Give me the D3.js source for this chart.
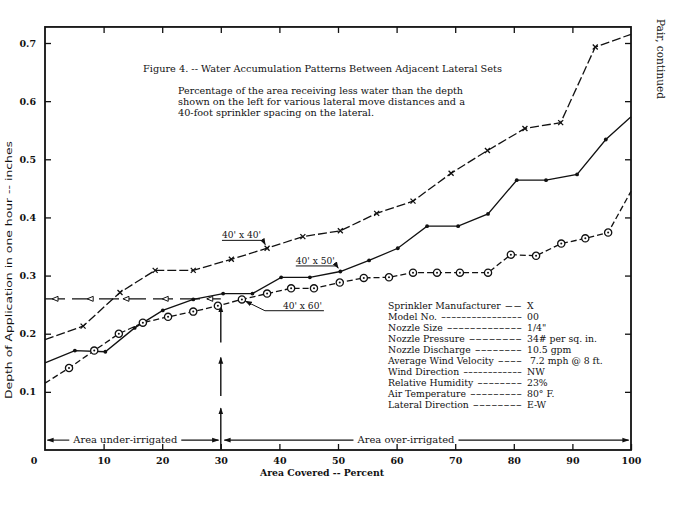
<!DOCTYPE html>
<html>
<head>
<meta charset="utf-8">
<script src="https://cdn.jsdelivr.net/npm/d3@7"></script>
<style>
    body { margin: 0; background: #fff; }
    text { font-family: 'DejaVu Serif', serif; fill: #111; }
</style>
</head>
<body>
<svg id="chart" width="682" height="507"></svg>
<script>
// axis ticks
let xTicks = [10, 20, 30, 40, 50, 60, 70, 80, 90, 100]
let yTicks = [0.1, 0.2, 0.3, 0.4, 0.5, 0.6, 0.7]

// 40' x 40'  (dashed, x markers)
let x4040 = [0, 6.5, 12.8, 18.8, 25.3, 31.8, 37.9, 44, 50.4, 56.6, 62.8, 69.3, 75.5, 81.9, 88, 93.9, 100]
let y4040 = [0.19, 0.213, 0.271, 0.309, 0.309, 0.328, 0.347, 0.367, 0.377, 0.407, 0.428, 0.476, 0.515, 0.553, 0.563, 0.693, 0.715]

// 40' x 50'  (solid, dots)
let x4050 = [0, 5.1, 10.3, 15.3, 20.1, 25.3, 30.4, 35.4, 40.3, 45.2, 50.4, 55.3, 60.2, 65.2, 70.5, 75.6, 80.5, 85.5, 90.8, 95.7, 100]
let y4050 = [0.15, 0.171, 0.169, 0.21, 0.24, 0.259, 0.269, 0.269, 0.297, 0.297, 0.307, 0.326, 0.347, 0.385, 0.385, 0.406, 0.464, 0.464, 0.474, 0.534, 0.573]

// 40' x 60'  (short dashes, circled dots)
let x4060 = [0, 4.1, 8.4, 12.6, 16.7, 21, 25.3, 29.5, 33.6, 37.9, 42, 45.9, 50.3, 54.4, 58.7, 62.8, 66.9, 70.8, 75.6, 79.5, 83.8, 88.1, 92.2, 96.1, 100]
let y4060 = [0.115, 0.141, 0.171, 0.2, 0.219, 0.229, 0.238, 0.248, 0.259, 0.269, 0.278, 0.278, 0.288, 0.296, 0.297, 0.305, 0.305, 0.305, 0.305, 0.336, 0.334, 0.355, 0.364, 0.374, 0.445]

// reading guides
let guideDepth = 0.26
let guideArea = 30
let guideArrowsX = [1.2, 7.2, 13.3, 20, 27.6]
let guideUpSegments = [[0, 0.072], [0.093, 0.159], [0.185, 0.248]]

let titleText = 'Figure 4. -- Water Accumulation Patterns Between Adjacent Lateral Sets'
let subtitleLines = [
    'Percentage of the area receiving less water than the depth',
    'shown on the left for various lateral move distances  and a',
    '40-foot sprinkler spacing on the lateral.'
]
let infoLabels = ['Sprinkler Manufacturer', 'Model No.', 'Nozzle Size', 'Nozzle Pressure', 'Nozzle Discharge',
    'Average Wind Velocity', 'Wind Direction', 'Relative Humidity', 'Air Temperature', 'Lateral Direction']
let infoDashes = ['--', '----------------', '-------------', '--------', '--------',
    '----', '------------', '--------', '---------', '--------']
let infoValues = ['X', '00', '1/4"', '34# per sq. in.', '10.5 gpm',
    ' 7.2 mph @ 8 ft.', 'NW', '23%', '80\u00B0 F.', 'E-W']

function main() {
    let svg = d3.select('#chart')
    let yMax = 0.7276

    let x = d3.scaleLinear().domain([0, 100]).range([45, 631]),
        y = d3.scaleLinear().domain([0, 0.7]).range([450, 43])

    let defs = svg.append('defs')
    defs.append('marker').attr('id', 'head')
        .attr('viewBox', '0 0 10 10').attr('refX', 9).attr('refY', 5)
        .attr('markerWidth', 7).attr('markerHeight', 7).attr('orient', 'auto')
        .attr('markerUnits', 'userSpaceOnUse')
        .append('path').attr('d', 'M0,1.5L10,5L0,8.5Z').attr('fill', '#111')

    // frame
    svg.append('rect')
        .attr('x', x(0)).attr('y', y(yMax))
        .attr('width', x(100) - x(0)).attr('height', y(0) - y(yMax))
        .attr('fill', 'none').attr('stroke', '#111').attr('stroke-width', 1.8)

    // axes, ticks pointing inward
    const styleAxis = g => {
        g.select('.domain').remove()
        g.selectAll('line').attr('stroke', '#111').attr('stroke-width', 1.3)
        g.selectAll('text').attr('font-family', "'DejaVu Serif', serif")
            .attr('font-size', 9.5).attr('font-weight', 'bold').attr('fill', '#111')
    }
    svg.append('g').attr('transform', 'translate(0,' + y(0) + ')')
        .call(d3.axisBottom(x).tickValues(xTicks).tickSizeInner(-6).tickSizeOuter(0).tickPadding(7))
        .call(styleAxis)
    svg.append('g').attr('transform', 'translate(' + x(0) + ',0)')
        .call(d3.axisLeft(y).tickValues(yTicks).tickSizeInner(-6).tickSizeOuter(0).tickPadding(9)
            .tickFormat(d3.format('.1f')))
        .call(styleAxis)
    svg.append('g').attr('transform', 'translate(0,' + y(yMax) + ')')
        .call(d3.axisTop(x).tickValues(xTicks.slice(0, -1)).tickSizeInner(-6).tickSizeOuter(0).tickFormat(''))
        .call(styleAxis)
    svg.append('g').attr('transform', 'translate(' + x(100) + ',0)')
        .call(d3.axisRight(y).tickValues(yTicks).tickSizeInner(-6).tickSizeOuter(0).tickFormat(''))
        .call(styleAxis)
    svg.append('text').attr('x', x(0) - 11).attr('y', y(0) + 14)
        .attr('text-anchor', 'middle').attr('font-size', 9.5).attr('font-weight', 'bold').text('0')

    // axis titles
    svg.append('text').attr('x', 260).attr('y', 476)
        .attr('font-size', 9).attr('font-weight', 'bold')
        .attr('textLength', 124).attr('lengthAdjust', 'spacingAndGlyphs')
        .text('Area Covered -- Percent')
    svg.append('text')
        .attr('transform', 'translate(12,270) rotate(-90)')
        .attr('text-anchor', 'middle').attr('font-size', 9.5)
        .style('font-family', "'DejaVu Sans', sans-serif")
        .attr('textLength', 258).attr('lengthAdjust', 'spacingAndGlyphs')
        .text('Depth of Application in one hour -- inches')
    svg.append('text')
        .attr('transform', 'translate(657,19) rotate(90)')
        .attr('font-size', 11)
        .attr('textLength', 80).attr('lengthAdjust', 'spacingAndGlyphs')
        .text('Pair, continued')

    // title block
    svg.append('text').attr('x', 143).attr('y', 72).attr('font-size', 9)
        .attr('textLength', 359).attr('lengthAdjust', 'spacingAndGlyphs').text(titleText)
    let subLen = [285, 287, 196]
    subtitleLines.forEach((t, i) => {
        svg.append('text').attr('x', 178).attr('y', 94 + i * 11).attr('font-size', 9)
            .attr('textLength', subLen[i]).attr('lengthAdjust', 'spacingAndGlyphs').text(t)
    })

    // guide lines
    let guide = svg.append('g').attr('stroke', '#111').attr('fill', 'none').attr('stroke-width', 1.4)
    guide.append('line')
        .attr('x1', x(0)).attr('x2', x(guideArea))
        .attr('y1', y(guideDepth)).attr('y2', y(guideDepth))
        .attr('stroke-dasharray', '20,7')
    guide.selectAll('.open-arrow')
        .data(guideArrowsX)
        .enter().append('path')
        .attr('class', 'open-arrow')
        .attr('d', d => {
            let px = x(d), py = y(guideDepth)
            return 'M' + px + ',' + py + 'L' + (px + 6) + ',' + (py - 2.5) + 'L' + (px + 6) + ',' + (py + 2.5) + 'Z'
        })
        .attr('fill', '#fff').attr('stroke-width', 1)
    guide.selectAll('.up')
        .data(guideUpSegments)
        .enter().append('line')
        .attr('class', 'up')
        .attr('x1', x(guideArea)).attr('x2', x(guideArea))
        .attr('y1', d => y(d[0])).attr('y2', d => y(d[1]))
        .attr('marker-end', 'url(#head)')

    // series
    let line = d3.line().x(d => x(d[0])).y(d => y(d[1]))
    let s4040 = d3.zip(x4040, y4040),
        s4050 = d3.zip(x4050, y4050),
        s4060 = d3.zip(x4060, y4060)

    svg.append('path').datum(s4040).attr('d', line)
        .attr('fill', 'none').attr('stroke', '#111').attr('stroke-width', 1.3).attr('stroke-dasharray', '9,3')
    svg.append('path').datum(s4050).attr('d', line)
        .attr('fill', 'none').attr('stroke', '#111').attr('stroke-width', 1.3)
    svg.append('path').datum(s4060).attr('d', line)
        .attr('fill', 'none').attr('stroke', '#111').attr('stroke-width', 1.3).attr('stroke-dasharray', '6,3')

    svg.selectAll('.xmark')
        .data(s4040.slice(1, -1))
        .enter().append('path')
        .attr('class', 'xmark')
        .attr('transform', d => 'translate(' + x(d[0]) + ',' + y(d[1]) + ')')
        .attr('d', 'M-2.5,-2.5L2.5,2.5M-2.5,2.5L2.5,-2.5')
        .attr('stroke', '#111').attr('stroke-width', 1.3)
    svg.selectAll('.dot')
        .data(s4050.slice(1, -1))
        .enter().append('circle')
        .attr('class', 'dot')
        .attr('cx', d => x(d[0])).attr('cy', d => y(d[1])).attr('r', 1.9)
        .attr('fill', '#111')
    let ring = svg.selectAll('.ring')
        .data(s4060.slice(1, -1))
        .enter().append('g')
        .attr('class', 'ring')
        .attr('transform', d => 'translate(' + x(d[0]) + ',' + y(d[1]) + ')')
    ring.append('circle').attr('r', 3.6).attr('fill', '#fff').attr('stroke', '#111').attr('stroke-width', 1.3)
    ring.append('circle').attr('r', 1).attr('fill', '#111')

    // series labels with leaders
    let labels = [
        {text: "40' x 40'", lx: 30.2, ly: 0.364, side: 'end', point: s4040[6]},
        {text: "40' x 50'", lx: 42.8, ly: 0.32, side: 'end', point: s4050[10]},
        {text: "40' x 60'", lx: 40.6, ly: 0.243, side: 'start', point: s4060[8]}
    ]
    labels.forEach(l => {
        let tx = x(l.lx), ty = y(l.ly)
        svg.append('text').attr('x', tx).attr('y', ty).attr('font-size', 9)
            .attr('textLength', 39).attr('lengthAdjust', 'spacingAndGlyphs').text(l.text)
        let w = 39
        let px = x(l.point[0]), py = y(l.point[1])
        let ux0 = l.side === 'end' ? tx : tx - 18, ux1 = tx + w + 2
        let sx = l.side === 'end' ? ux1 : ux0
        let dx = px - sx, dy = py - (ty + 2), dist = Math.hypot(dx, dy)
        let k = Math.max(0, (dist - 4) / dist)
        svg.append('path')
            .attr('d', l.side === 'end'
                ? 'M' + ux0 + ',' + (ty + 2) + 'L' + ux1 + ',' + (ty + 2) + 'L' + (sx + dx * k) + ',' + (ty + 2 + dy * k)
                : 'M' + ux1 + ',' + (ty + 2) + 'L' + ux0 + ',' + (ty + 2) + 'L' + (sx + dx * k) + ',' + (ty + 2 + dy * k))
            .attr('fill', 'none').attr('stroke', '#111').attr('stroke-width', 1)
            .attr('marker-end', 'url(#head)')
    })

    // under / over irrigated arrows
    let bandY = y(0.017)
    let bands = [
        {text: 'Area under-irrigated', cx: 13.7, len: 104, from: 0.4, to: 29.6},
        {text: 'Area over-irrigated', cx: 61.6, len: 97, from: 30.6, to: 99.6}
    ]
    bands.forEach(b => {
        let c = x(b.cx)
        svg.append('text').attr('x', c).attr('y', bandY + 3).attr('text-anchor', 'middle')
            .attr('font-size', 9).attr('textLength', b.len).attr('lengthAdjust', 'spacingAndGlyphs').text(b.text)
        svg.append('line').attr('x1', c - b.len / 2 - 4).attr('x2', x(b.from))
            .attr('y1', bandY).attr('y2', bandY)
            .attr('stroke', '#111').attr('stroke-width', 1.1).attr('marker-end', 'url(#head)')
        svg.append('line').attr('x1', c + b.len / 2 + 4).attr('x2', x(b.to))
            .attr('y1', bandY).attr('y2', bandY)
            .attr('stroke', '#111').attr('stroke-width', 1.1).attr('marker-end', 'url(#head)')
    })

    // test conditions
    let info = svg.append('g').attr('font-size', 9.3)
    infoLabels.forEach((lab, i) => {
        let by = 309 + i * 11
        let t = info.append('text').attr('x', 388).attr('y', by).text(lab)
        let end = 388 + t.node().getComputedTextLength() + 4
        info.append('text').attr('x', end).attr('y', by)
            .attr('textLength', Math.max(6, 522 - end)).attr('lengthAdjust', 'spacingAndGlyphs')
            .text(infoDashes[i])
        info.append('text').attr('x', 527).attr('y', by).attr('xml:space', 'preserve')
            .style('white-space', 'pre').text(infoValues[i])
    })
}

main()
</script>
</body>
</html>
